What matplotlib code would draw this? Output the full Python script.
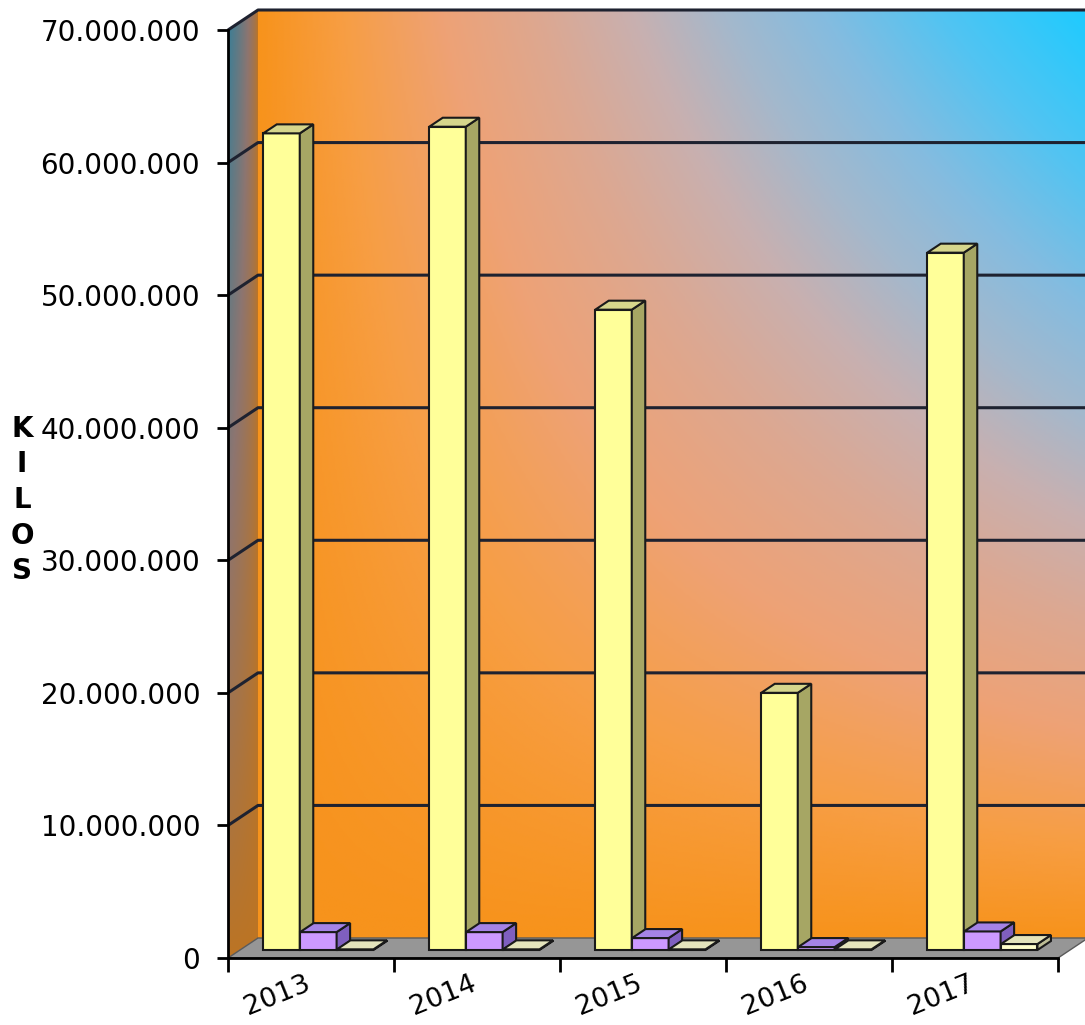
import numpy as np
import matplotlib
matplotlib.use('Agg')
import matplotlib.pyplot as plt
from matplotlib.patches import Polygon
from matplotlib.colors import LinearSegmentedColormap
from matplotlib.ticker import FuncFormatter

# datos (kilos por año)
years = ['2013', '2014', '2015', '2016', '2017']
kilos_amarillo = [61.6e6, 62.1e6, 48.3e6, 19.4e6, 52.6e6]
kilos_morado = [1.35e6, 1.35e6, 0.9e6, 0.22e6, 1.4e6]
kilos_crema = [0.05e6, 0.05e6, 0.05e6, 0.05e6, 0.45e6]
y_ticks = [0, 10e6, 20e6, 30e6, 40e6, 50e6, 60e6, 70e6]

plt.rcParams['font.family'] = ['DejaVu Sans']

fig = plt.figure(figsize=(10.85, 10.25), dpi=100)
ax = fig.add_axes([0, 0, 1, 1])

YMAX = 70e6
PX_X = 166.0            # px por categoria
PX_Y = 928.0 / YMAX     # px por kilo
ax.set_xlim(-228 / PX_X, (1085 - 228) / PX_X)
ax.set_ylim(-(1025 - 958) / PX_Y, YMAX + 30 / PX_Y)
ax.patch.set_visible(False)

# profundidad del "3D"
DX = 30 / PX_X
DY = 20 / PX_Y
n = len(years)

# pared del fondo (degradado naranja -> celeste)
wall_cmap = LinearSegmentedColormap.from_list('wall', [
    (0.0, '#f7931c'), (0.1, '#f79e44'), (0.22, '#eea276'), (0.34, '#dca892'),
    (0.45, '#c8b0b0'), (0.56, '#a4b8cc'), (0.68, '#84bce0'), (0.82, '#52c4f2'),
    (1.0, '#1ecbff')])
gx = np.linspace(0, 1, 400)
gy = np.linspace(0, 1, 400)
grad = gx[None, :] * gy[:, None]
ax.imshow(grad, extent=[DX, n + DX, DY, YMAX + DY], origin='lower',
          cmap=wall_cmap, aspect='auto', interpolation='bilinear', zorder=0)

# pared izquierda
side_cmap = LinearSegmentedColormap.from_list('side', [
    (0.0, '#bc7424'), (0.5, '#8d7570'), (1.0, '#3b7e96')])
sx = np.linspace(0, 1, 40)
sy = np.linspace(0, 1, 400)
side = (1 - sx[None, :]) ** 0.6 * sy[:, None] ** 0.9
left_poly = Polygon([(0, 0), (0, YMAX), (DX, YMAX + DY), (DX, DY)], closed=True,
                    fc='none', ec='none')
ax.add_patch(left_poly)
im = ax.imshow(side, extent=[0, DX, 0, YMAX + DY], origin='lower', cmap=side_cmap,
               aspect='auto', interpolation='bilinear', zorder=1, vmin=0, vmax=1)
im.set_clip_path(left_poly)

# piso
ax.add_patch(Polygon([(0, 0), (n, 0), (n + DX, DY), (DX, DY)], closed=True,
                     fc='#969696', ec='#5a5a5a', lw=1, zorder=2))

# lineas de division
for v in y_ticks[1:]:
    ax.plot([0, DX, n + DX], [v, v + DY, v + DY], color='#1e2230', lw=2.2,
            zorder=1.5, solid_capstyle='butt')

# barras
Z0, Z1 = 0.4, 0.85
W = 0.22
offsets = [0.14, 0.362, 0.584]
series = [kilos_amarillo, kilos_morado, kilos_crema]
colores = [('#ffff99', '#a6a664', '#d6d68c'),
           ('#cc99ff', '#7f5fbf', '#a583e6'),
           ('#ffffcc', '#bdbd96', '#e4e4bc')]
ddx = (Z1 - Z0) * DX
ddy = (Z1 - Z0) * DY
base = Z0 * DY
for j, vals in enumerate(series):
    front, lado, tapa = colores[j]
    xs = np.arange(n) + offsets[j] + Z0 * DX
    ax.bar(xs, vals, width=W, bottom=base, align='edge', color=front,
           edgecolor='#1a1a1a', linewidth=1.5, zorder=3 + j)
    for x, v in zip(xs, vals):
        top = base + v
        ax.add_patch(Polygon([(x + W, base), (x + W, top), (x + W + ddx, top + ddy),
                              (x + W + ddx, base + ddy)], closed=True, fc=lado,
                             ec='#1a1a1a', lw=1.5, zorder=3 + j))
        ax.add_patch(Polygon([(x, top), (x + W, top), (x + W + ddx, top + ddy),
                              (x + ddx, top + ddy)], closed=True, fc=tapa,
                             ec='#1a1a1a', lw=1.5, zorder=3 + j))

# ejes
for s in ['top', 'right']:
    ax.spines[s].set_visible(False)
ax.spines['left'].set_position(('data', 0))
ax.spines['bottom'].set_position(('data', 0))
ax.spines['left'].set_bounds(0, YMAX)
ax.spines['bottom'].set_bounds(0, n)
for s in ['left', 'bottom']:
    ax.spines[s].set_linewidth(2)
    ax.spines[s].set_zorder(8)

ax.set_yticks(y_ticks)
ax.yaxis.set_major_formatter(FuncFormatter(lambda v, p: f'{v:,.0f}'.replace(',', '.')))
ax.tick_params(axis='y', direction='out', length=8, width=2, pad=12, labelsize=20)

ax.set_xticks(np.arange(n + 1))
ax.set_xticklabels([])
ax.set_xticks(np.arange(n) + 0.46, minor=True)
ax.set_xticklabels(years, minor=True)
ax.tick_params(axis='x', which='major', direction='out', length=10, width=2)
ax.tick_params(axis='x', which='minor', length=0, pad=9, labelsize=19.5)
for lbl in ax.get_xticklabels(minor=True):
    lbl.set_rotation(22)
    lbl.set_ha('right')
    lbl.set_rotation_mode('anchor')

ax.set_ylabel('K\nI\nL\nO\nS', rotation=0, fontsize=20, fontweight='bold',
              linespacing=1.35, va='center', ha='center')
ax.yaxis.set_label_coords(22 / 1085, 1 - 500 / 1025)

fig.savefig('out.png', dpi=100)
